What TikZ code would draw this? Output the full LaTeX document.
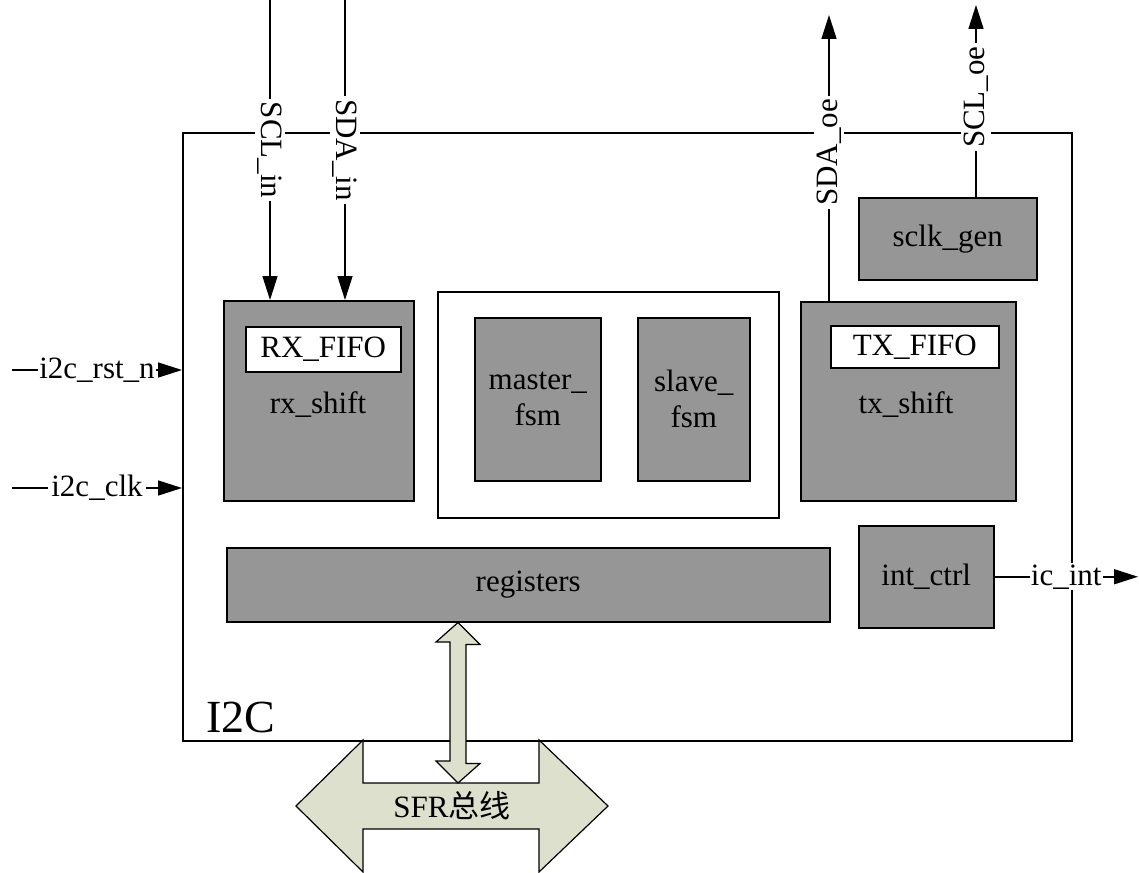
\documentclass[tikz,border=0pt]{standalone}
\usepackage{fontspec}
\setmainfont{Liberation Serif}
\newfontfamily\cjk{Noto Sans CJK SC}
\usetikzlibrary{
  arrows.meta,
  positioning,
  calc
}
\definecolor{icGray}{HTML}{969696}
\definecolor{icBus}{HTML}{DDE0CD}
\tikzset{
  icnode/.style={
    draw, line width=1.5pt, inner sep=0pt, anchor=north west,
    font=\fontsize{31}{36}\selectfont, align=center
  },
  block/.style={icnode, fill=icGray},
  fifo/.style={icnode, fill=white},
  frame/.style={icnode, fill=none},
  sig/.style={-{Triangle[length=24pt,width=15pt]}, line width=1.5pt},
  wire/.style={line width=1.5pt},
  tag/.style={fill=white, inner sep=3pt, font=\fontsize{31}{36}\selectfont},
  txt/.style={font=\fontsize{31}{36}\selectfont, inner sep=0pt},
  bus/.style={draw, line width=1.2pt, fill=icBus}
}
\begin{document}
\begin{tikzpicture}[x=1pt, y=-1pt]
  \useasboundingbox (0,0) rectangle (1139,872);
  % outer frame
  \node[frame, minimum width=889pt, minimum height=608pt] (i2c) at (182,132) {};
  \node[txt, font=\fontsize{46}{46}\selectfont, anchor=base west] (title) at (206,732) {I2C};
  % blocks
  \node[block, minimum width=190pt, minimum height=200pt] (rx) at (223,300) {};
  \node[fifo, minimum width=155pt, minimum height=45pt] (rxfifo) at (245,326) {RX\_FIFO};
  \node[txt] (rxlbl) at (318,405) {rx\_shift};
  \node[frame, minimum width=341pt, minimum height=226pt] (fsmgrp) at (437,291) {};
  \node[block, minimum width=126pt, minimum height=163pt] (master) at (474,317) {master\_\\fsm};
  \node[block, minimum width=112pt, minimum height=163pt] (slave) at (637,317) {slave\_\\fsm};
  \node[block, minimum width=215pt, minimum height=199pt] (tx) at (800,301) {};
  \node[fifo, minimum width=168pt, minimum height=42pt] (txfifo) at (830,325) {TX\_FIFO};
  \node[txt] (txlbl) at (906,405) {tx\_shift};
  \node[block, minimum width=178pt, minimum height=82pt] (sclk) at (858,197) {sclk\_gen};
  \node[block, minimum width=603pt, minimum height=74pt] (regs) at (226,547) {registers};
  \node[block, minimum width=135pt, minimum height=102pt] (intc) at (858,525) {int\_ctrl};
  % inputs
  \coordinate (rstin) at (12,370);
  \coordinate (clkin) at (12,488);
  \draw[sig] (rstin) -- (rstin -| i2c.west) node[tag, midway, inner sep=1pt] (rstlbl) {i2c\_rst\_n};
  \draw[sig] (clkin) -- (clkin -| i2c.west) node[tag, midway] (clklbl) {i2c\_clk};
  \coordinate (sclin) at (270,0);
  \coordinate (sdain) at (345,0);
  \draw[sig] (sclin) -- (sclin |- rx.north) node[tag, midway, rotate=-90] (scllbl) {SCL\_in};
  \draw[sig] (sdain) -- (sdain |- rx.north) node[tag, midway, rotate=-90] (sdalbl) {SDA\_in};
  % outputs
  \coordinate (sdaoe) at (829,15);
  \coordinate (scloe) at (976,5);
  \coordinate (icint) at (1138,0);
  \draw[sig] (sdaoe |- tx.north) -- (sdaoe) node[tag, pos=0.52, rotate=90] (sdaoelbl) {SDA\_oe};
  \draw[sig] (scloe |- sclk.north) -- (scloe) node[tag, pos=0.52, rotate=90] (scloelbl) {SCL\_oe};
  \draw[sig] (intc.east) -- (intc.east -| icint) node[tag, midway, inner sep=1pt] (intlbl) {ic\_int};
  % SFR bus
  \draw[bus] (296,806) -- (363,740) -- (363,783) -- (539,783) -- (539,740) -- (608,806)
    -- (539,872) -- (539,829) -- (363,829) -- (363,872) -- cycle;
  \node[txt] (sfr) at (452,806) {SFR{\cjk 总线}};
  \coordinate (busup) at (458,783);
  \draw[bus] (regs.south -| busup) -- ++(22,22) -- ++(-14,0) -- ++(0,119) -- ++(14,0)
    -- (busup) -- ++(-22,-22) -- ++(14,0) -- ++(0,-119) -- ++(-14,0) -- cycle;
\end{tikzpicture}
\end{document}
